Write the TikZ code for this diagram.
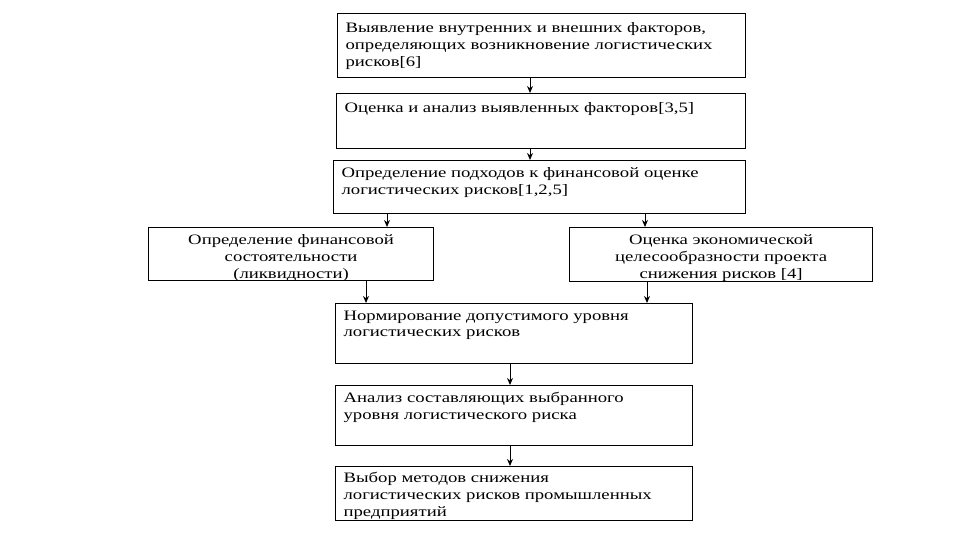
\documentclass[tikz,border=0pt]{standalone}
\usepackage{fontspec}
\setmainfont[FakeStretch=1.3]{Liberation Serif}
\usetikzlibrary{arrows.meta}
\newcommand{\blocktext}[3]{\parbox[t][#2][t]{#1}{#3}}

\begin{document}
\begin{tikzpicture}[
  x=1pt,
  y=-1pt,
  every node/.style={font=\fontsize{14.4}{16.8}\selectfont, black},
  blok/.style={draw=black, line width=1.2pt, anchor=north west,
               inner xsep=8pt, inner ysep=4pt},
  arr/.style={black, line width=1pt, -{Stealth[length=7pt, width=6pt]}}
]
  % ---- fixed page size ----
  \useasboundingbox (0,0) rectangle (960,540);

  % ---- main column, top part ----
  \node[blok] (b1) at (337,13) {\blocktext{392pt}{56pt}{\raggedright\vspace*{5pt}
    Выявление внутренних и внешних факторов,\\
    определяющих возникновение логистических\\
    рисков[6]}};
  \node[blok] (b2) at (336,93) {\blocktext{393pt}{47pt}{\raggedright\vspace*{5pt}
    Оценка и анализ выявленных факторов[3,5]}};
  \node[blok] (b3) at (333,160) {\blocktext{396pt}{45pt}{\raggedright\vspace*{3pt}
    Определение подходов к финансовой оценке\\
    логистических рисков[1,2,5]}};

  % ---- two side blocks ----
  \node[blok] (b4) at (148,227) {\blocktext{269pt}{45pt}{\centering\vspace*{3pt}
    Определение финансовой\\ состоятельности\\ (ликвидности)}};
  \node[blok] (b5) at (569,227) {\blocktext{287pt}{46pt}{\centering\vspace*{3pt}
    Оценка экономической\\ целесообразности проекта\\ снижения рисков [4]}};

  % ---- main column, lower part ----
  \node[blok] (b6) at (335,303) {\blocktext{341pt}{52pt}{\raggedright\vspace*{3pt}
    Нормирование допустимого уровня\\
    логистических рисков}};
  \node[blok] (b7) at (335,385) {\blocktext{341pt}{52pt}{\raggedright\vspace*{3pt}
    Анализ составляющих выбранного\\
    уровня логистического риска}};
  \node[blok] (b8) at (335,466) {\blocktext{341pt}{46pt}{\raggedright\vspace*{2pt}
    Выбор методов снижения\\
    логистических рисков промышленных\\
    предприятий}};

  % ---- connectors ----
  \draw[arr] ([xshift=193pt]b1.south west) -- ([xshift=193pt]b1.south west |- b2.north);
  \draw[arr] ([xshift=194pt]b2.south west) -- ([xshift=194pt]b2.south west |- b3.north);
  \draw[arr] ([xshift=54pt]b3.south west) -- ([xshift=54pt]b3.south west |- b4.north);
  \draw[arr] ([xshift=312pt]b3.south west) -- ([xshift=312pt]b3.south west |- b5.north);
  \draw[arr] ([xshift=218pt]b4.south west) -- ([xshift=218pt]b4.south west |- b6.north);
  \draw[arr] ([xshift=78pt]b5.south west) -- ([xshift=78pt]b5.south west |- b6.north);
  \draw[arr] ([xshift=175pt]b6.south west) -- ([xshift=175pt]b6.south west |- b7.north);
  \draw[arr] ([xshift=175pt]b7.south west) -- ([xshift=175pt]b7.south west |- b8.north);
\end{tikzpicture}
\end{document}
